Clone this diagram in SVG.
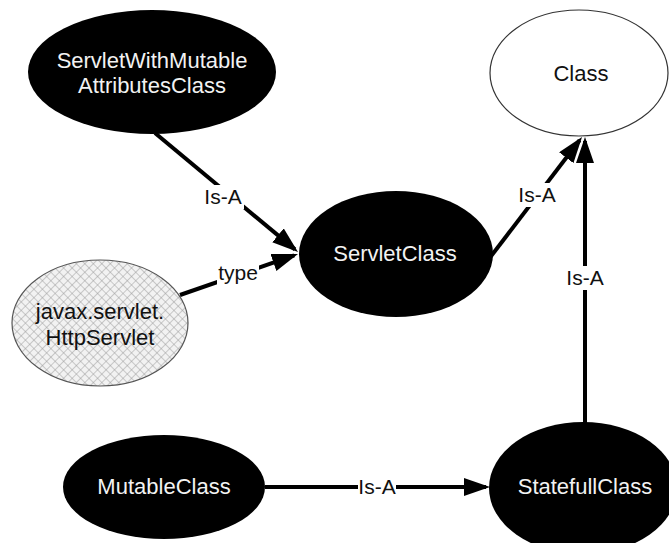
<svg xmlns="http://www.w3.org/2000/svg" width="669" height="543" viewBox="0 0 669 543">
  <style>
    .dark { fill: #000; }
    .plain { fill: #fff; stroke: #333; stroke-width: 1.2; }
    .hatched { fill: url(#crosshatch); stroke: #555; stroke-width: 1.2; }
    .light-text { fill: #f2f2f2; font-family: "Liberation Sans", Arial, sans-serif; font-size: 22px; text-anchor: middle; dominant-baseline: central; }
    .dark-text { fill: #111; font-family: "Liberation Sans", Arial, sans-serif; font-size: 22px; text-anchor: middle; dominant-baseline: central; }
    .edge { stroke: #000; stroke-width: 4; fill: none; marker-end: url(#head); }
    .edge-label { fill: #111; font-family: "Liberation Sans", Arial, sans-serif; font-size: 21px; text-anchor: middle; dominant-baseline: central; }
    .label-bg { fill: #fff; }
  </style>
  <defs>
    <pattern id="crosshatch" width="6" height="6" patternUnits="userSpaceOnUse" patternTransform="rotate(45)">
      <rect width="6" height="6" fill="#f2f2f2"/>
      <path d="M0,0 V6 M0,0 H6" stroke="#9c9c9c" stroke-width="1"/>
    </pattern>
    <marker id="head" markerUnits="userSpaceOnUse" markerWidth="28" markerHeight="20" refX="22" refY="9" orient="auto">
      <path d="M0,0 L26,9 L0,18 z" fill="#000"/>
    </marker>
  </defs>

  <!-- nodes -->
  <g id="node-servlet-with-mutable">
    <ellipse class="dark" cx="152" cy="72" rx="124" ry="62"/>
    <text class="light-text" x="152" y="60">ServletWithMutable</text>
    <text class="light-text" x="152" y="85">AttributesClass</text>
  </g>
  <g id="node-class">
    <ellipse class="plain" cx="579" cy="73" rx="89" ry="63"/>
    <text class="dark-text" x="581" y="73">Class</text>
  </g>
  <g id="node-servlet-class">
    <ellipse class="dark" cx="396" cy="254" rx="97" ry="63"/>
    <text class="light-text" x="395" y="253">ServletClass</text>
  </g>
  <g id="node-http-servlet">
    <ellipse class="hatched" cx="100" cy="323" rx="88" ry="63"/>
    <text class="dark-text" x="100" y="311">javax.servlet.</text>
    <text class="dark-text" x="100" y="337">HttpServlet</text>
  </g>
  <g id="node-mutable-class">
    <ellipse class="dark" cx="164" cy="487" rx="101" ry="52"/>
    <text class="light-text" x="164" y="486">MutableClass</text>
  </g>
  <g id="node-statefull-class">
    <ellipse class="dark" cx="583" cy="488" rx="94" ry="66"/>
    <text class="light-text" x="585" y="486">StatefullClass</text>
  </g>

  <!-- connectors -->
  <g id="connectors">
    <line class="edge" x1="155" y1="133" x2="294.9" y2="249.4"/>
    <line class="edge" x1="180" y1="295" x2="294.2" y2="255.3"/>
    <line class="edge" x1="482" y1="268" x2="579.6" y2="140.2"/>
    <line class="edge" x1="585" y1="423" x2="585" y2="141"/>
    <line class="edge" x1="265" y1="487" x2="486" y2="487"/>

    <rect class="label-bg" x="202" y="185" width="42" height="24"/>
    <text class="edge-label" x="223" y="196">Is-A</text>
    <rect class="label-bg" x="217" y="261" width="42" height="24"/>
    <text class="edge-label" x="238" y="272">type</text>
    <rect class="label-bg" x="516" y="183" width="42" height="24"/>
    <text class="edge-label" x="537" y="194">Is-A</text>
    <rect class="label-bg" x="564" y="266" width="42" height="24"/>
    <text class="edge-label" x="585" y="277">Is-A</text>
    <rect class="label-bg" x="358" y="476" width="38" height="22"/>
    <text class="edge-label" x="377" y="486">Is-A</text>
  </g>
</svg>
